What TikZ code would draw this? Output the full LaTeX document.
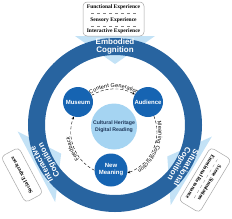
\documentclass[tikz,border=0pt]{standalone}
\usepackage{fontspec}
\setmainfont{Liberation Sans}
\newfontfamily\serifbox{Liberation Serif}
\usetikzlibrary{arrows.meta,decorations.text,calc}
\definecolor{ringblue}{RGB}{40,100,160}
\definecolor{nodeblue}{RGB}{22,100,178}
\definecolor{lightblue}{RGB}{165,212,242}
\definecolor{arrowblue}{RGB}{195,226,246}
\definecolor{navy}{RGB}{30,55,90}
\begin{document}
\begin{tikzpicture}[x=1pt,y=1pt,
 bluenode/.style={circle,fill=nodeblue,text=white,font=\fontsize{6}{7}\selectfont\bfseries,align=center,inner sep=0pt},
 ringtext/.style={text=white,font=\fontsize{8}{8.2}\selectfont\bfseries,align=center,inner sep=0pt},
 expbox/.style={draw=gray!70,rounded corners=4pt,fill=white,inner sep=0pt,line width=0.5pt},
 exptext/.style={font=\serifbox\fontsize{5.5}{6}\selectfont\bfseries,inner sep=0pt},
 sep/.style={gray,dashed,line width=0.3pt},
 cyc/.style={densely dashed,line width=0.4pt,-{Stealth[length=3pt,width=2.5pt]}},
 arclabel/.style={decorate,decoration={text along path,text align=center,raise=1.5pt}},
]
\useasboundingbox (0,0) rectangle (232,218);
\coordinate (C) at (115,93);
\coordinate (D) at (114,86);
% light arrows
\foreach \a in {90,208,329}{
  \begin{scope}[shift={(C)},rotate=\a-90]
    \fill[arrowblue] (-40,89) -- (40,89) -- (0,61) -- cycle;
  \end{scope}
}
% ring
\draw[ringblue,line width=17pt] (C) circle[radius=78.5];
\node[ringtext] (emb) at ($(C)+(90:78.5)$) {Embodied\\Cognition};
\node[ringtext,rotate=118] (int) at ($(C)+(208:78.5)$) {Interactive\\Cognition};
\node[ringtext,rotate=-121] (sit) at ($(C)+(329:78.5)$) {Situational\\Cognition};
% boxes
\node[expbox,minimum width=61pt,minimum height=34pt] (topbox) at (113.5,199) {};
\node[exptext] (fe) at (113.5,210.5) {Functional Experience};
\node[exptext] (se) at (113.5,198) {Sensory Experience};
\node[exptext] (ie) at (113.5,186.5) {Interactive Experience};
\draw[sep] (91,204.5) -- (136,204.5);
\draw[sep] (91,192) -- (136,192);
\node[expbox,exptext,rotate=118,minimum width=52pt,minimum height=20pt] (lbox) at (22,43) {Social Experience};
\begin{scope}[shift={(205,38)},rotate=-121,transform shape]
  \node[expbox,minimum width=62pt,minimum height=24pt] (rbox) at (0,0) {};
  \node[exptext] (ss) at (0,5.5) {Scene Simulation};
  \node[exptext] (er) at (0,-5.5) {Emotional Resonance};
  \draw[sep] (-24,0) -- (24,0);
\end{scope}
% cycle arcs
\draw[cyc] ($(D)+(121.5:43)$) arc[start angle=121.5,end angle=61,radius=43];
\draw[cyc] ($(D)+(22:43)$) arc[start angle=22,end angle=-72,radius=43];
\draw[cyc] ($(D)+(243:43)$) arc[start angle=243,end angle=158.8,radius=43];
\path[arclabel,decoration={text={|\fontsize{5.5}{6}\selectfont|Content Generation}}] ($(D)+(135:43)$) arc[start angle=135,end angle=45,radius=43];
\path[arclabel,decoration={text={|\fontsize{5.5}{6}\selectfont|Meaning Construction}}] ($(D)+(30:43)$) arc[start angle=30,end angle=-75,radius=43];
\path[arclabel,decoration={text={|\fontsize{5.5}{6}\selectfont|Feedback}}] ($(D)+(225:43)$) arc[start angle=225,end angle=180,radius=43];
% nodes
\node[bluenode,minimum size=30pt] (mus) at (78,116) {Museum};
\node[bluenode,minimum size=30pt] (aud) at (148,116) {Audience};
\node[bluenode,minimum size=33pt] (new) at (111,48) {New\\Meaning};
\node[circle,fill=lightblue,minimum size=46pt,inner sep=0pt,text=navy,align=center,font=\fontsize{5.2}{6.5}\selectfont\bfseries] (chd) at (114,91.5) {Cultural Heritage\\Digital Reading};
\end{tikzpicture}
\end{document}
